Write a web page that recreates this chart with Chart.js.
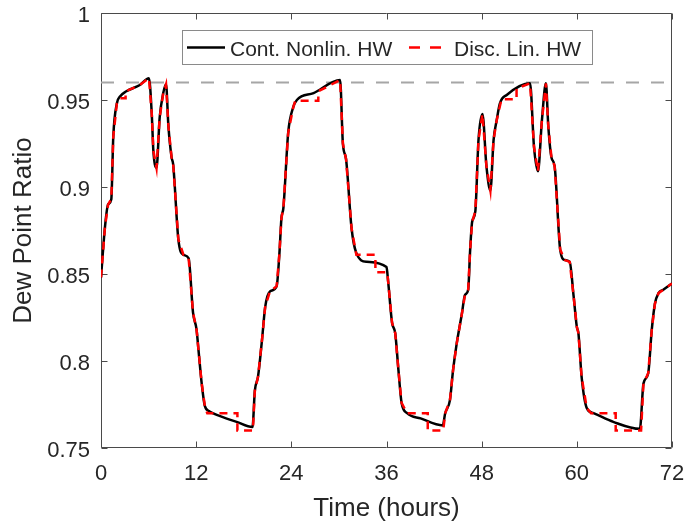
<!DOCTYPE html>
<html>
<head>
<meta charset="utf-8">
<script src="https://cdn.jsdelivr.net/npm/chart.js@4.4.1/dist/chart.umd.min.js"></script>
<style>
  html, body { margin: 0; padding: 0; background: #ffffff; }
  #wrap { width: 685px; height: 525px; }
</style>
</head>
<body>
<div id="wrap"><canvas id="c" width="685" height="525"></canvas></div>
<script>
// ---- data ----
const xTicks = [0, 12, 24, 36, 48, 60, 72];
const yTicks = [0.75, 0.8, 0.85, 0.9, 0.95, 1];
const yTickLabels = ['0.75', '0.8', '0.85', '0.9', '0.95', '1'];
const refLevel = 0.96;

const contT = [0, 0.5, 0.9, 1.3, 1.55, 2.0, 2.4, 3.2, 4.9, 6.05, 6.4, 6.6, 7.0, 7.4, 7.85, 8.2, 8.5, 8.9, 9.1, 9.75,
  10.4, 11.05, 11.6, 12.05, 12.3, 12.7, 13.1, 13.7, 14.6, 17.1, 19.1, 19.4, 19.8, 20.3, 20.7, 21.3, 22.15, 22.5, 22.75, 23.0,
  23.6, 24.25, 24.7, 26.8, 30.15, 30.5, 30.9, 31.6, 32.2, 33.5, 36.0, 36.2, 36.7, 37.1, 37.5, 37.9, 38.6, 40.3, 43.1, 43.4,
  44.0, 44.4, 44.85, 45.5, 45.9, 46.3, 46.55, 46.8, 47.2, 47.6, 48.1, 48.6, 49.1, 49.5, 49.9, 50.3, 51.2, 54.1, 54.6, 55.1,
  55.6, 56.1, 56.4, 56.8, 57.2, 57.9, 58.5, 59.1, 59.6, 60.0, 60.2, 60.6, 61.25, 62.1, 64.6, 67.95, 68.4, 69.0, 69.45, 69.85,
  70.3, 70.9, 72];
const contV = [0.848, 0.877, 0.890, 0.893, 0.929, 0.948, 0.952, 0.955, 0.9586, 0.9625, 0.942, 0.921, 0.911, 0.940, 0.954, 0.959, 0.935, 0.917, 0.913, 0.870,
  0.861, 0.859, 0.828, 0.818, 0.806, 0.787, 0.774, 0.771, 0.769, 0.765, 0.762, 0.783, 0.791, 0.812, 0.831, 0.840, 0.843, 0.862, 0.882, 0.888,
  0.931, 0.946, 0.950, 0.954, 0.9615, 0.925, 0.916, 0.876, 0.862, 0.857, 0.854, 0.846, 0.822, 0.816, 0.795, 0.776, 0.770, 0.767, 0.763, 0.770,
  0.7775, 0.795, 0.810, 0.827, 0.838, 0.841, 0.864, 0.880, 0.886, 0.927, 0.942, 0.912, 0.898, 0.927, 0.9385, 0.948, 0.953, 0.9596, 0.923, 0.909,
  0.9385, 0.9596, 0.935, 0.917, 0.912, 0.864, 0.858, 0.857, 0.837, 0.8196, 0.816, 0.791, 0.773, 0.770, 0.765, 0.761, 0.787, 0.793, 0.818, 0.833,
  0.839, 0.841, 0.8446];

const discT = [0, 0.5, 0.9, 1.3, 1.55, 2.0, 2.4, 3.1, 3.1, 4.9, 6.05, 6.4, 6.6, 7.0, 7.4, 7.85, 8.2, 8.5, 8.9, 9.1, 9.75,
  10.4, 11.05, 11.6, 12.05, 12.3, 12.7, 13.1, 13.4, 17.2, 17.2, 19.15, 19.4, 19.8, 20.3, 20.7, 21.3, 22.15, 22.5, 22.75, 23.0,
  23.6, 24.25, 24.5, 27.4, 27.4, 30.15, 30.5, 30.9, 31.6, 32.2, 34.6, 34.6, 36.1, 36.2, 36.7, 37.1, 37.5, 37.9, 38.6, 41.2, 41.2, 43.15, 43.4,
  44.0, 44.4, 44.85, 45.5, 45.9, 46.3, 46.55, 46.8, 47.2, 47.6, 48.1, 48.6, 49.1, 49.5, 49.9, 50.5, 52.4, 52.4, 54.1, 54.6, 55.1,
  55.6, 56.1, 56.4, 56.8, 57.2, 57.9, 58.5, 59.1, 59.6, 60.0, 60.2, 60.6, 61.25, 61.8, 64.9, 64.9, 68.1, 68.4, 69.0, 69.45, 69.85,
  70.3, 70.9, 72];
const discV = [0.848, 0.877, 0.890, 0.893, 0.929, 0.948, 0.951, 0.951, 0.955, 0.9586, 0.9625, 0.942, 0.921, 0.911, 0.940, 0.954, 0.959, 0.935, 0.917, 0.913, 0.870,
  0.861, 0.859, 0.828, 0.818, 0.806, 0.787, 0.774, 0.770, 0.770, 0.760, 0.760, 0.783, 0.791, 0.812, 0.831, 0.840, 0.843, 0.862, 0.882, 0.888,
  0.931, 0.946, 0.9495, 0.9495, 0.955, 0.9615, 0.925, 0.916, 0.876, 0.861, 0.861, 0.851, 0.851, 0.846, 0.822, 0.816, 0.795, 0.776, 0.770, 0.770, 0.760, 0.760, 0.770,
  0.7775, 0.795, 0.810, 0.827, 0.838, 0.841, 0.864, 0.880, 0.886, 0.927, 0.942, 0.912, 0.898, 0.927, 0.9385, 0.9505, 0.9505, 0.9566, 0.9596, 0.923, 0.909,
  0.9385, 0.9596, 0.935, 0.917, 0.912, 0.864, 0.858, 0.857, 0.837, 0.8196, 0.816, 0.791, 0.773, 0.770, 0.770, 0.760, 0.760, 0.787, 0.793, 0.818, 0.833,
  0.839, 0.841, 0.8446];

const seriesNames = ['Cont. Nonlin. HW', 'Disc. Lin. HW'];

// ---- build chart ----
const toPts = (t, v) => t.map((x, i) => ({ x: x, y: v[i] }));
const FONT = '"Liberation Sans", Arial, Helvetica, sans-serif';
const TEXT = '#262626';
const AXIS = '#4a4a4a';

const boxPlugin = {
  id: 'matlabBox',
  beforeDatasetsDraw(chart) {
    const { ctx, chartArea: a, scales } = chart;
    ctx.save();
    ctx.strokeStyle = AXIS;
    ctx.lineWidth = 1;
    const L = Math.round(a.left) + 0.5, R = Math.round(a.right) - 0.5;
    const T = Math.round(a.top) + 0.5, B = Math.round(a.bottom) - 0.5;
    ctx.beginPath();
    ctx.rect(L, T, R - L, B - T);
    xTicks.forEach(v => {
      const px = Math.round(scales.x.getPixelForValue(v)) + 0.5;
      ctx.moveTo(px, B); ctx.lineTo(px, B - 6);
      ctx.moveTo(px, T); ctx.lineTo(px, T + 6);
    });
    yTicks.forEach(v => {
      const py = Math.round(scales.y.getPixelForValue(v)) + 0.5;
      ctx.moveTo(L, py); ctx.lineTo(L + 6, py);
      ctx.moveTo(R, py); ctx.lineTo(R - 6, py);
    });
    ctx.stroke();
    ctx.restore();
  },
  afterDraw(chart) {
    const ctx = chart.ctx;
    ctx.save();
    // legend box
    ctx.fillStyle = '#ffffff';
    ctx.fillRect(182, 30, 411, 35);
    ctx.strokeStyle = '#8a8a8a';
    ctx.lineWidth = 1;
    ctx.strokeRect(182.5, 30.5, 410, 34);
    // black sample
    ctx.strokeStyle = '#000000';
    ctx.lineWidth = 2.5;
    ctx.beginPath(); ctx.moveTo(187, 47.5); ctx.lineTo(225, 47.5); ctx.stroke();
    // red dashed sample
    ctx.strokeStyle = '#ff0000';
    ctx.beginPath();
    ctx.moveTo(409, 47.5); ctx.lineTo(420, 47.5);
    ctx.moveTo(430, 47.5); ctx.lineTo(441, 47.5);
    ctx.stroke();
    ctx.fillStyle = TEXT;
    ctx.font = '21px ' + FONT;
    ctx.textBaseline = 'alphabetic';
    ctx.textAlign = 'left';
    ctx.fillText(seriesNames[0], 230, 56);
    ctx.fillText(seriesNames[1], 454, 56);
    ctx.restore();
  }
};

new Chart(document.getElementById('c'), {
  type: 'line',
  data: {
    datasets: [
      {
        label: seriesNames[1],
        data: toPts(discT, discV),
        borderColor: '#ff0000',
        borderWidth: 2.5,
        borderDash: [8, 6],
        pointRadius: 0,
        tension: 0,
        order: 0
      },
      {
        label: seriesNames[0],
        data: toPts(contT, contV),
        borderColor: '#000000',
        borderWidth: 2.5,
        pointRadius: 0,
        cubicInterpolationMode: 'monotone',
        order: 1
      },
      {
        label: 'ref',
        data: [{ x: xTicks[0], y: refLevel }, { x: xTicks[xTicks.length - 1], y: refLevel }],
        borderColor: '#a6a6a6',
        borderWidth: 2,
        borderDash: [13, 12],
        pointRadius: 0,
        order: 2
      }
    ]
  },
  options: {
    responsive: false,
    animation: false,
    devicePixelRatio: 1,
    layout: { padding: { left: 0, right: 0, top: 0, bottom: 0 } },
    plugins: { legend: { display: false }, tooltip: { enabled: false } },
    scales: {
      x: {
        type: 'linear',
        min: 0, max: 72,
        afterBuildTicks: s => { s.ticks = xTicks.map(v => ({ value: v })); },
        afterFit: s => { s.height = 77; s.paddingRight = 13; },
        grid: { display: false, drawTicks: false },
        border: { display: false },
        ticks: {
          padding: 13,
          color: TEXT,
          font: { family: FONT, size: 22 },
          maxRotation: 0,
          callback: v => String(v)
        },
        title: {
          display: true,
          text: 'Time (hours)',
          color: TEXT,
          font: { family: FONT, size: 26 },
          padding: { top: 0, bottom: 1 }
        }
      },
      y: {
        type: 'linear',
        min: 0.75, max: 1,
        afterBuildTicks: s => { s.ticks = yTicks.map(v => ({ value: v })); },
        afterFit: s => { s.width = 101; s.paddingTop = 13; },
        grid: { display: false, drawTicks: false },
        border: { display: false },
        ticks: {
          padding: 11,
          labelOffset: 3,
          color: TEXT,
          font: { family: FONT, size: 22 },
          callback: (v, i) => yTickLabels[i]
        },
        title: {
          display: true,
          text: 'Dew Point Ratio',
          color: TEXT,
          font: { family: FONT, size: 26 },
          padding: { top: 8, bottom: 0 }
        }
      }
    }
  },
  plugins: [boxPlugin]
});
</script>
</body>
</html>
